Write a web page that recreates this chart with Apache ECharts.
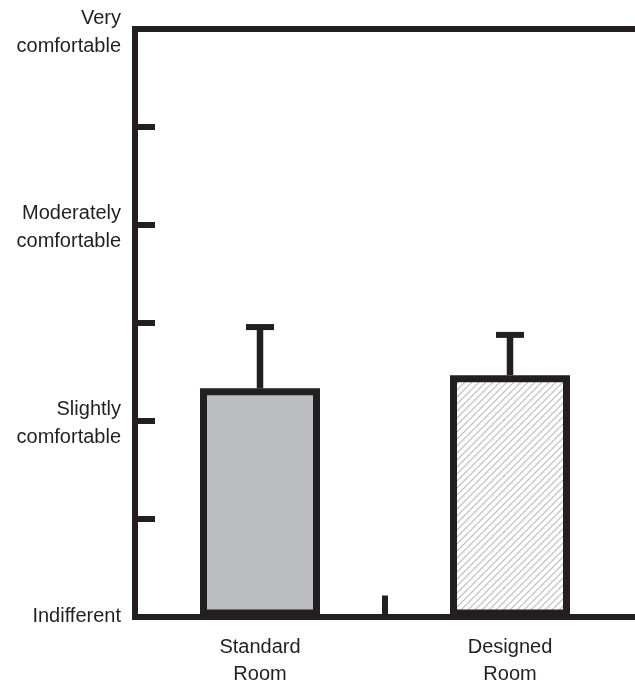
<!DOCTYPE html>
<html>
<head>
<meta charset="utf-8">
<script src="https://cdn.jsdelivr.net/npm/echarts@6/dist/echarts.min.js"></script>
<style>
html,body{margin:0;padding:0;background:#fff;}
#chart{width:635px;height:686px;}
</style>
</head>
<body>
<div id="chart"></div>
<script>
// ---- data ----
const categories = ['Standard\nRoom', 'Designed\nRoom'];
const meanValues = [1.165, 1.232];
const upperValues = [1.478, 1.438];
const yTickLabels = ['Indifferent', '', 'Slightly\ncomfortable', '', 'Moderately\ncomfortable', '', 'Very\ncomfortable'];

const INK = '#231f20';
const FONT = "'Liberation Sans', Arial, Helvetica, sans-serif";

// hatch pattern
function makeHatch() {
  const s = 7;
  const c = document.createElement('canvas');
  c.width = s; c.height = s;
  const ctx = c.getContext('2d');
  ctx.fillStyle = '#ffffff';
  ctx.fillRect(0, 0, s, s);
  ctx.strokeStyle = '#bcbcbc';
  ctx.lineWidth = 1.2;
  for (let k = -s; k <= s; k += s) {
    ctx.beginPath();
    ctx.moveTo(k - 1, s + 1);
    ctx.lineTo(k + s + 1, -1);
    ctx.stroke();
  }
  return c;
}

const chart = echarts.init(document.getElementById('chart'), null, {renderer: 'canvas'});

const barFills = ['#bcbec0', {image: makeHatch(), repeat: 'repeat'}];

function yLabel(v) {
  const t = yTickLabels[Math.round(v * 2)] || '';
  if (!t) return '';
  const parts = t.split('\n');
  if (parts.length === 1) return '{s|' + parts[0] + '}';
  return '{a|' + parts[0] + '}\n{b|' + parts[1] + '}';
}

const labelBase = {color: INK, fontFamily: FONT, fontSize: 20, align: 'right'};

const option = {
  animation: false,
  backgroundColor: '#ffffff',
  grid: {left: 135, right: 0, top: 29, bottom: 69.5, containLabel: false, outerBoundsMode: 'none'},
  xAxis: [{
    type: 'category',
    data: categories,
    position: 'bottom',
    axisLine: {lineStyle: {color: INK, width: 6, cap: 'square'}},
    axisTick: {show: false},
    axisLabel: {color: INK, fontFamily: FONT, fontSize: 20, lineHeight: 27, margin: 17}
  }, {
    type: 'category',
    data: categories,
    position: 'top',
    axisLine: {lineStyle: {color: INK, width: 6, cap: 'square'}},
    axisTick: {show: false},
    axisLabel: {show: false}
  }, {
    // divider tick between the two groups
    type: 'value',
    position: 'bottom',
    min: 0,
    max: 2,
    interval: 2,
    axisLine: {show: false},
    axisTick: {show: false, inside: true},
    minorTick: {show: true, splitNumber: 2, length: 21, lineStyle: {color: INK, width: 6}},
    axisLabel: {show: false},
    splitLine: {show: false},
    minorSplitLine: {show: false}
  }],
  yAxis: {
    type: 'value',
    min: 0,
    max: 3,
    interval: 0.5,
    splitLine: {show: false},
    axisLine: {show: true, lineStyle: {color: INK, width: 6, cap: 'square'}},
    axisTick: {show: true, inside: true, length: 20, lineStyle: {color: INK, width: 6}},
    axisLabel: {
      color: INK, fontFamily: FONT, fontSize: 20, margin: 14, align: 'right',
      formatter: yLabel,
      rich: {
        a: Object.assign({lineHeight: 34}, labelBase),
        b: Object.assign({lineHeight: 22}, labelBase),
        s: Object.assign({lineHeight: 24}, labelBase)
      }
    }
  },
  series: [{
    type: 'bar',
    xAxisIndex: 0,
    barWidth: 120,
    data: meanValues.map(function (v, i) {
      return {value: v, itemStyle: {color: barFills[i], borderColor: INK, borderWidth: 7}};
    }),
    z: 2
  }, {
    type: 'custom',
    xAxisIndex: 0,
    z: 3,
    data: meanValues.map(function (v, i) { return [i, v, upperValues[i]]; }),
    renderItem: function (params, api) {
      const base = api.coord([api.value(0), api.value(1)]);
      const top = api.coord([api.value(0), api.value(2)]);
      return {
        type: 'group',
        children: [{
          type: 'line',
          shape: {x1: base[0], y1: base[1], x2: base[0], y2: top[1]},
          style: {stroke: INK, lineWidth: 6.5}
        }, {
          type: 'line',
          shape: {x1: base[0] - 14, y1: top[1], x2: base[0] + 14, y2: top[1]},
          style: {stroke: INK, lineWidth: 6}
        }]
      };
    }
  }]
};
chart.setOption(option);
</script>
</body>
</html>
